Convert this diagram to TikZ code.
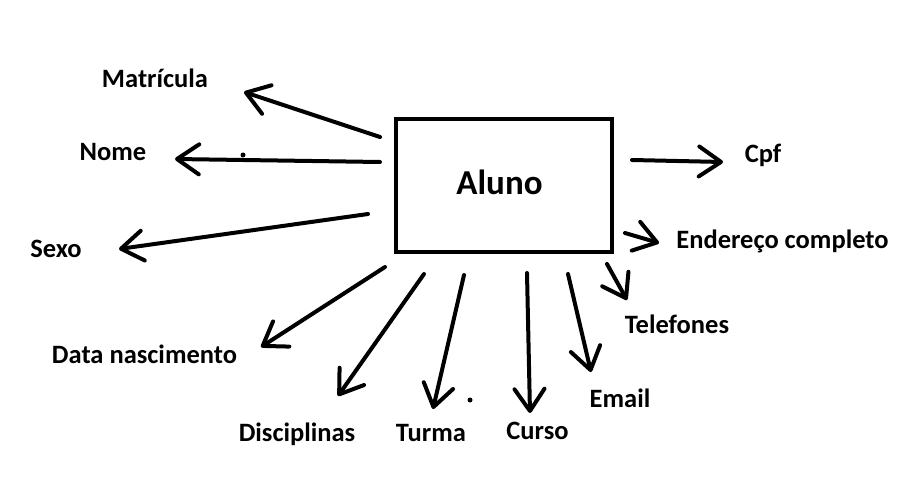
\documentclass[tikz,border=0pt]{standalone}
\usepackage{fontspec}
\setmainfont{Carlito}
\usetikzlibrary{arrows.meta}

\begin{document}
\begin{tikzpicture}[x=1pt,y=-1pt,
	attr/.style={anchor=base,font=\fontsize{26.5}{30}\selectfont\bfseries},
	link/.style={line width=4pt,line cap=round,-{Straight Barb[length=22pt,width=30pt,line cap=round,line join=round]}}]
	\useasboundingbox (0,0) rectangle (903,492);

	%entity box
	\node[draw,line width=4pt,minimum width=216pt,minimum height=133pt] (box) at (504,185.5) {};
	\node[anchor=base,font=\fontsize{35}{40}\selectfont\bfseries] (aluno) at (499.5,194) {Aluno};

	%attribute labels
	\node[attr] (matricula) at (155,88)  {Matrícula};
	\node[attr] (nome)      at (113,161) {Nome};
	\node[attr] (sexo)      at (56,257)  {Sexo};
	\node[attr] (data)      at (144.5,363) {Data nascimento};
	\node[attr] (disc)      at (297,441) {Disciplinas};
	\node[attr] (turma)     at (431,441) {Turma};
	\node[attr] (curso)     at (537.5,439) {Curso};
	\node[attr] (email)     at (620,407) {Email};
	\node[attr] (fones)     at (677,333) {Telefones};
	\node[attr] (endereco)  at (782.5,248) {Endereço completo};
	\node[attr] (cpf)       at (763,163) {Cpf};

	%arrow ends
	\coordinate (s1) at (380,137);  \coordinate (t1) at (244,92);
	\coordinate (s2) at (380,162);  \coordinate (t2) at (175,159);
	\coordinate (s3) at (368,214);  \coordinate (t3) at (119,249);
	\coordinate (s4) at (385,267);  \coordinate (t4) at (261,347);
	\coordinate (s5) at (424,274);  \coordinate (t5) at (338,396);
	\coordinate (s6) at (464,275);  \coordinate (t6) at (433,409);
	\coordinate (s7) at (527,273);  \coordinate (t7) at (530,413);
	\coordinate (s8) at (568,274);  \coordinate (t8) at (591,372);
	\coordinate (s9) at (607,264);  \coordinate (t9) at (627,300);
	\coordinate (s10) at (625,233); \coordinate (t10) at (659,243);
	\coordinate (s11) at (632,160); \coordinate (t11) at (723,162);

	%arrows
	\draw[link] (s1)--(t1);		%Matricula
	\draw[link] (s2)--(t2);		%Nome
	\draw[link] (s3)--(t3);		%Sexo
	\draw[link] (s4)--(t4);		%Data nascimento
	\draw[link] (s5)--(t5);		%Disciplinas
	\draw[link] (s6)--(t6);		%Turma
	\draw[link] (s7)--(t7);		%Curso
	\draw[link] (s8)--(t8);		%Email
	\draw[link] (s9)--(t9);		%Telefones
	\draw[link] (s10)--(t10);	%Endereco
	\draw[link] (s11)--(t11);	%Cpf

	%stray dots
	\fill (243,155) circle (2.5pt);
	\fill (470,400) circle (2.5pt);
\end{tikzpicture}
\end{document}
